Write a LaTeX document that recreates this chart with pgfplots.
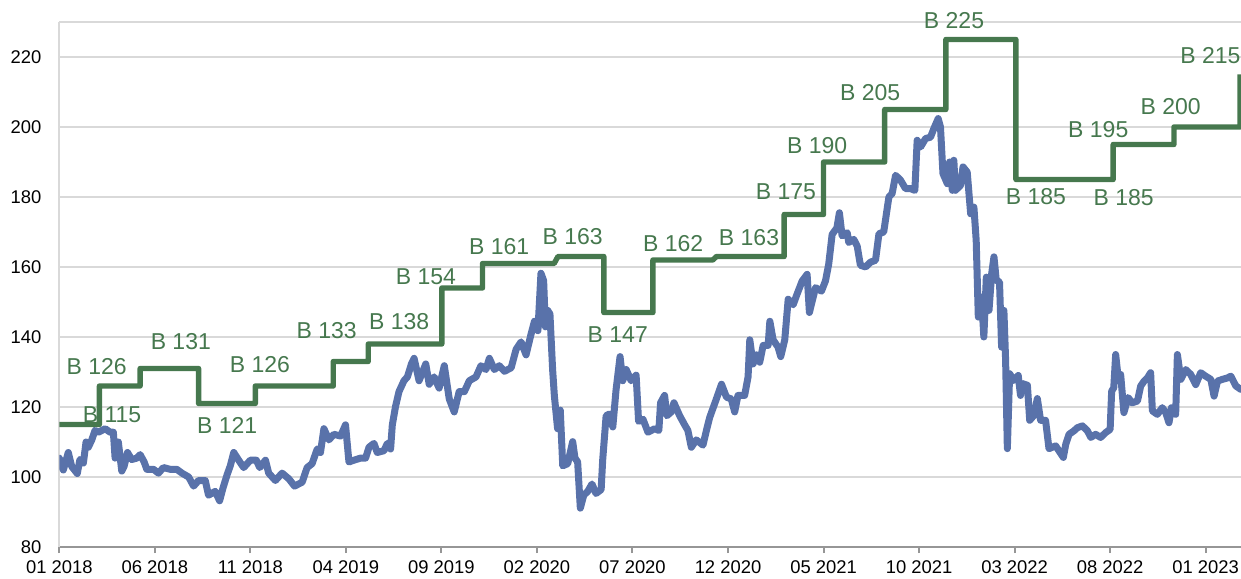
\documentclass[border=0pt]{standalone}
\usepackage{pgfplots}
\pgfplotsset{compat=1.18}
\usepackage{fontspec}
\setmainfont{Liberation Sans}
\definecolor{bgreen}{RGB}{70,120,78}
\definecolor{bblue}{RGB}{89,114,170}
\definecolor{gridgray}{RGB}{217,217,217}
\definecolor{axgray}{RGB}{150,150,150}
\tikzset{lbl/.style={font=\fontsize{11.5}{13}\selectfont, text=bgreen, inner sep=0pt}}
\begin{document}
\begin{tikzpicture}
\begin{axis}[
  scale only axis, width=590.85pt, height=262.5pt,
  xmin=0, xmax=61.85, ymin=80, ymax=230,
  axis x line*=bottom, axis y line*=left,
  x axis line style={-, draw=axgray, line width=1pt},
  y axis line style={-, draw=gridgray, line width=0.8pt},
  xtick={0,5,...,60},
  xticklabels={01 2018,06 2018,11 2018,04 2019,09 2019,02 2020,07 2020,12 2020,05 2021,10 2021,03 2022,08 2022,01 2023},
  ytick={80,100,...,220},
  extra y ticks={230}, extra y tick labels={},
  ymajorgrids, grid style={draw=gridgray, line width=0.8pt},
  tick align=outside, major tick length=3pt,
  x tick style={draw=axgray, line width=1pt},
  y tick style={draw=none},
  tick label style={font=\fontsize{9.2}{11}\selectfont, inner sep=0pt},
  xticklabel style={yshift=-3.75pt},
  yticklabel style={xshift=-5.8pt},
  /pgf/number format/assume math mode=true,
  clip mode=individual,
]
\addplot[bblue, line width=3.5pt, line join=round, line cap=round] coordinates {
(0.00,105.4) (0.21,102) (0.47,107) (0.65,103) (0.94,101) (1.08,105) (1.26,104) (1.40,110) (1.52,108.5) (1.70,110.6)
(1.87,113.3) (2.05,112.8) (2.40,113.8) (2.66,112.8) (2.83,112.8) (2.92,105.4) (3.09,110) (3.27,101.7) (3.39,103) (3.57,107)
(3.79,105) (4.06,105.4) (4.23,106.4) (4.44,104.3) (4.58,102.2) (4.93,102.2) (5.19,101.1) (5.45,102.7) (5.80,102.2) (6.15,102.2)
(6.42,101.1) (6.77,100) (7.03,97.4) (7.29,99) (7.64,99) (7.81,94.8) (8.16,95.9) (8.39,93.2) (8.57,96.9) (8.78,100.6)
(8.95,103.2) (9.13,107) (9.39,104.8) (9.65,102.7) (10.00,104.8) (10.31,104.8) (10.49,102.7) (10.79,104.8) (10.96,101.1) (11.31,99)
(11.66,101.1) (12.01,99.5) (12.31,97.4) (12.71,98.5) (12.97,102.7) (13.23,103.8) (13.50,108) (13.67,107) (13.85,113.8) (14.11,110.6)
(14.37,112.2) (14.72,111.7) (14.98,114.9) (15.16,104.3) (15.42,104.8) (15.77,105.4) (16.03,105.4) (16.21,108.5) (16.47,109.6) (16.64,107)
(16.99,107.5) (17.17,109.6) (17.34,108) (17.43,114.9) (17.60,120.2) (17.78,124.4) (18.04,127.5) (18.22,128.6) (18.43,132.3) (18.57,133.9)
(18.83,127.5) (19.18,132.3) (19.36,126.5) (19.62,128.6) (19.88,125.4) (20.15,131.8) (20.41,122.3) (20.67,118.6) (20.93,124.4) (21.20,124.4)
(21.46,127.5) (21.81,128.6) (22.07,131.8) (22.33,130.7) (22.51,133.9) (22.77,130.7) (23.03,131.8) (23.30,130.2) (23.65,131.2) (23.91,136.5)
(24.17,138.6) (24.43,134.9) (24.69,140.8) (24.87,144.5) (25.05,141.8) (25.21,158.2) (25.35,156.1) (25.44,142.9) (25.56,147.6) (25.68,146.6)
(25.82,130.7) (25.91,123.3) (26.08,113.8) (26.22,119.1) (26.35,103.2) (26.61,103.8) (26.87,110.1) (26.99,105.4) (27.13,104.3) (27.27,91.1)
(27.45,94.8) (27.66,95.9) (27.88,98) (28.09,95.3) (28.36,96.4) (28.44,104.8) (28.62,117.5) (28.79,118) (28.97,114.3) (29.14,124.9)
(29.35,134.4) (29.49,127.5) (29.67,130.7) (29.93,127.5) (30.19,129.1) (30.32,115.9) (30.55,116.5) (30.81,112.8) (31.16,113.8) (31.38,113.3)
(31.47,121.2) (31.68,123.3) (31.80,117.5) (32.03,118.6) (32.17,121.2) (32.47,117.5) (32.73,114.9) (32.90,113.3) (33.08,108.5) (33.34,110.6)
(33.69,109.1) (33.87,113.3) (34.04,117) (34.39,122.3) (34.66,126.5) (34.92,122.8) (35.17,122.3) (35.35,118.6) (35.52,123.3) (35.87,123.3)
(36.05,128.6) (36.14,139.2) (36.31,132.3) (36.49,134.9) (36.66,132.8) (36.84,137.6) (37.10,137.6) (37.19,144.5) (37.36,139.2) (37.62,137.1)
(37.76,134.4) (37.97,139.2) (38.15,150.8) (38.41,149.2) (38.59,151.9) (38.88,156) (39.14,157.9) (39.26,147) (39.58,154.1) (39.89,153.1)
(40.10,156) (40.27,160.8) (40.45,169.3) (40.70,171.2) (40.83,175.5) (40.97,168.9) (41.24,169.8) (41.32,167) (41.58,167.9) (41.76,166)
(41.93,160.5) (42.20,160) (42.46,161.4) (42.72,161.9) (42.90,169.5) (43.15,170) (43.42,180) (43.59,181) (43.77,186.2) (44.03,184.8)
(44.29,182.4) (44.55,182.4) (44.78,181.9) (44.90,196.2) (45.08,194.3) (45.34,196.7) (45.60,197.1) (45.77,199.5) (46.00,202.4) (46.12,200)
(46.25,186.7) (46.48,183.8) (46.60,190) (46.74,181.9) (46.82,190.5) (46.90,181.9) (47.17,183.3) (47.30,188.6) (47.52,187.1) (47.70,175.2)
(47.87,177.1) (47.99,167.6) (48.10,145.7) (48.27,151.4) (48.39,140) (48.52,157.1) (48.66,147.6) (48.80,158.1) (48.92,162.9) (49.04,156.2)
(49.21,155.7) (49.32,137.1) (49.44,147.6) (49.53,133.3) (49.62,108.1) (49.74,129.5) (49.96,127.6) (50.19,129) (50.31,123.3) (50.40,126.7)
(50.67,126.2) (50.79,116.2) (51.01,117.6) (51.19,122.4) (51.36,116.2) (51.62,116.2) (51.80,108.1) (52.15,108.9) (52.32,107.5) (52.55,105.6)
(52.68,109.4) (52.85,112.2) (53.11,113.2) (53.29,114.1) (53.55,114.6) (53.81,113.2) (53.99,111.3) (54.24,112.2) (54.50,111.3) (54.77,112.7)
(55.00,113.6) (55.08,124.5) (55.19,125.5) (55.29,135) (55.43,127.9) (55.55,129.3) (55.72,118.4) (55.94,122.7) (56.15,121.2) (56.43,121.7)
(56.60,126) (56.78,127.4) (56.95,128.3) (57.12,129.8) (57.21,118.9) (57.47,117.9) (57.73,119.8) (57.91,118.4) (58.08,115.5) (58.21,119.8)
(58.43,117.9) (58.52,135) (58.70,127.9) (58.96,130.7) (59.22,129.3) (59.48,126.4) (59.74,129.8) (60.00,128.8) (60.27,127.9) (60.44,123.1)
(60.62,127.4) (60.88,127.9) (61.14,128.3) (61.32,128.8) (61.58,126) (61.85,125)
};
\addplot[bgreen, line width=2.7pt, line join=round] coordinates {
(0,115) (2.1,115) (2.1,126) (4.23,126) (4.23,131) (7.29,131) (7.29,121) (10.26,121) (10.26,126) (14.34,126)
(14.34,133) (16.17,133) (16.17,138) (20.02,138) (20.02,154) (22.15,154) (22.15,161) (25.9,161) (26.1,163) (28.5,163)
(28.5,147) (31.07,147) (31.07,162) (34.2,162) (34.4,163) (37.94,163) (37.94,175) (40.0,175) (40.0,190) (43.2,190)
(43.2,205) (46.4,205) (46.4,225) (50.07,225) (50.07,185) (55.16,185) (55.16,195) (58.34,195) (58.34,200) (61.8,200) (61.8,215)
};
\node[lbl] at (axis cs:1.96,131.5) {B 126};
\node[lbl] at (axis cs:2.76,117.9) {B 115};
\node[lbl] at (axis cs:6.36,138.7) {B 131};
\node[lbl] at (axis cs:8.79,114.8) {B 121};
\node[lbl] at (axis cs:10.50,132.1) {B 126};
\node[lbl] at (axis cs:13.99,141.7) {B 133};
\node[lbl] at (axis cs:17.79,144.3) {B 138};
\node[lbl] at (axis cs:19.19,157.3) {B 154};
\node[lbl] at (axis cs:23.02,165.7) {B 161};
\node[lbl] at (axis cs:26.87,168.8) {B 163};
\node[lbl] at (axis cs:29.23,140.8) {B 147};
\node[lbl] at (axis cs:32.13,166.6) {B 162};
\node[lbl] at (axis cs:36.10,168.4) {B 163};
\node[lbl] at (axis cs:38.03,181.5) {B 175};
\node[lbl] at (axis cs:39.67,194.8) {B 190};
\node[lbl] at (axis cs:42.44,209.9) {B 205};
\node[lbl] at (axis cs:46.83,230.5) {B 225};
\node[lbl] at (axis cs:51.12,180.0) {B 185};
\node[lbl] at (axis cs:54.38,199.4) {B 195};
\node[lbl] at (axis cs:55.71,179.7) {B 185};
\node[lbl] at (axis cs:58.17,205.9) {B 200};
\node[lbl] at (axis cs:60.25,220.3) {B 215};
\coordinate (ll) at (rel axis cs:0,0);
\coordinate (ur) at (rel axis cs:1,1);
\end{axis}
\pgfresetboundingbox
\path[use as bounding box] ([shift={(-29.65pt,-15.5pt)}]ll) rectangle ([shift={(0pt,11pt)}]ur);
\end{tikzpicture}
\end{document}
